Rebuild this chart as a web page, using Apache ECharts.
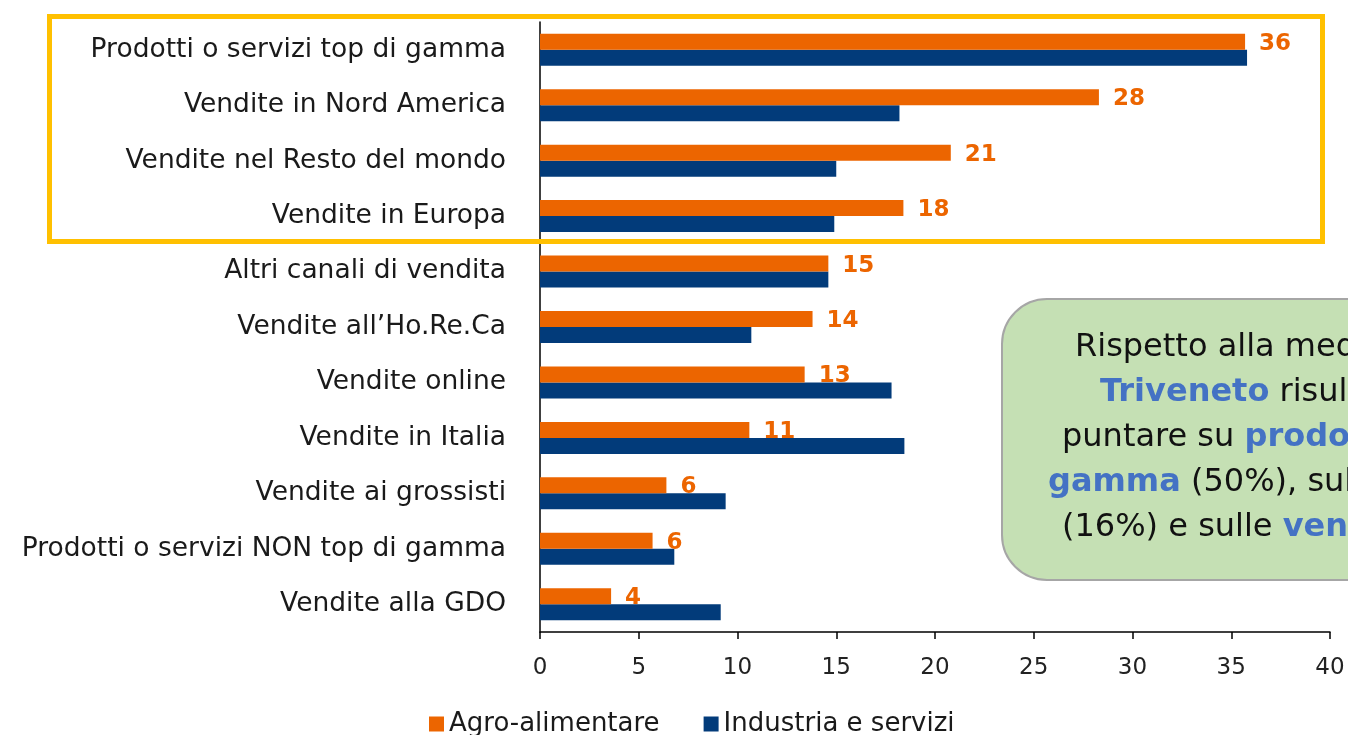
<!DOCTYPE html>
<html>
<head>
<meta charset="utf-8">
<script src="https://cdn.jsdelivr.net/npm/echarts@6/dist/echarts.min.js"></script>
<style>
  html, body { margin: 0; padding: 0; background: #fff; }
  #chart { width: 1348px; height: 735px; }
</style>
</head>
<body>
<div id="chart"></div>
<script>
// categories top to bottom
const categories = [
  'Prodotti o servizi top di gamma',
  'Vendite in Nord America',
  'Vendite nel Resto del mondo',
  'Vendite in Europa',
  'Altri canali di vendita',
  'Vendite all\u2019Ho.Re.Ca',
  'Vendite online',
  'Vendite in Italia',
  'Vendite ai grossisti',
  'Prodotti o servizi NON top di gamma',
  'Vendite alla GDO'
];
const agro = [35.7, 28.3, 20.8, 18.4, 14.6, 13.8, 13.4, 10.6, 6.4, 5.7, 3.6];
const industria = [35.8, 18.2, 15.0, 14.9, 14.6, 10.7, 17.8, 18.45, 9.4, 6.8, 9.15];
const xTicks = [0, 5, 10, 15, 20, 25, 30, 35, 40];

const orange = '#EC6500';
const navy = '#023B7A';
const font = '"DejaVu Sans", sans-serif';
const boxFont = '32px ' + font;
const blueTxt = {fontWeight: 'bold', fill: '#4472C4', fontSize: 32, fontFamily: font};

const chart = echarts.init(document.getElementById('chart'));

let option = {
  animation: false,
  textStyle: {fontFamily: font},
  grid: {left: 540, right: 18, top: 22, height: 610, containLabel: false},
  legend: {
    bottom: -7,
    left: 424,
    itemWidth: 15,
    itemHeight: 15,
    itemGap: 44,
    icon: 'rect',
    textStyle: {fontSize: 26, color: '#1a1a1a', fontFamily: font},
    data: ['Agro-alimentare', 'Industria e servizi']
  },
  xAxis: {
    type: 'value',
    min: xTicks[0],
    max: xTicks[xTicks.length - 1],
    interval: 5,
    axisLine: {show: true, lineStyle: {color: '#000', width: 1.5}},
    axisTick: {show: true, length: 7, lineStyle: {color: '#000', width: 1.5}},
    splitLine: {show: false},
    axisLabel: {fontSize: 23, color: '#222', margin: 25}
  },
  yAxis: {
    type: 'category',
    inverse: true,
    data: categories,
    axisLine: {show: true, lineStyle: {color: '#000', width: 1.5}},
    axisTick: {show: false},
    axisLabel: {fontSize: 26.5, color: '#1a1a1a', margin: 34}
  },
  series: [
    {
      name: 'Agro-alimentare',
      type: 'bar',
      data: agro,
      barWidth: 16,
      barGap: '0%',
      itemStyle: {color: orange},
      z: 3,
      label: {
        show: true,
        position: 'right',
        distance: 14,
        offset: [0, 2],
        color: orange,
        fontWeight: 'bold',
        fontSize: 23,
        formatter: (p) => Math.round(p.value)
      }
    },
    {
      name: 'Industria e servizi',
      type: 'bar',
      data: industria,
      barWidth: 16,
      barGap: '0%',
      itemStyle: {color: navy},
      z: 2
    }
  ],
  graphic: [
    {
      type: 'rect',
      shape: {x: 49.5, y: 16.5, width: 1273, height: 225},
      style: {fill: 'none', stroke: '#FFC000', lineWidth: 5},
      z: 10
    },
    {
      type: 'rect',
      shape: {x: 1002, y: 299, width: 420, height: 281, r: 45},
      style: {fill: '#C5E0B4', stroke: '#A6A6A6', lineWidth: 2},
      z: 10
    },
    {
      type: 'text', left: 1075, top: 332, z: 11,
      style: {text: 'Rispetto alla media del', font: boxFont, fill: '#111'}
    },
    {
      type: 'text', left: 1100, top: 377, z: 11,
      style: {text: '{b|Triveneto} risulta più', font: boxFont, fill: '#111', rich: {b: blueTxt}}
    },
    {
      type: 'text', left: 1062, top: 422, z: 11,
      style: {text: 'puntare su {b|prodotti top di}', font: boxFont, fill: '#111', rich: {b: blueTxt}}
    },
    {
      type: 'text', left: 1048, top: 467, z: 11,
      style: {text: '{b|gamma} (50%), sulle vendite', font: boxFont, fill: '#111', rich: {b: blueTxt}}
    },
    {
      type: 'text', left: 1062, top: 512, z: 11,
      style: {text: '(16%) e sulle {b|vendite}', font: boxFont, fill: '#111', rich: {b: blueTxt}}
    }
  ]
};

chart.setOption(option);
</script>
</body>
</html>
